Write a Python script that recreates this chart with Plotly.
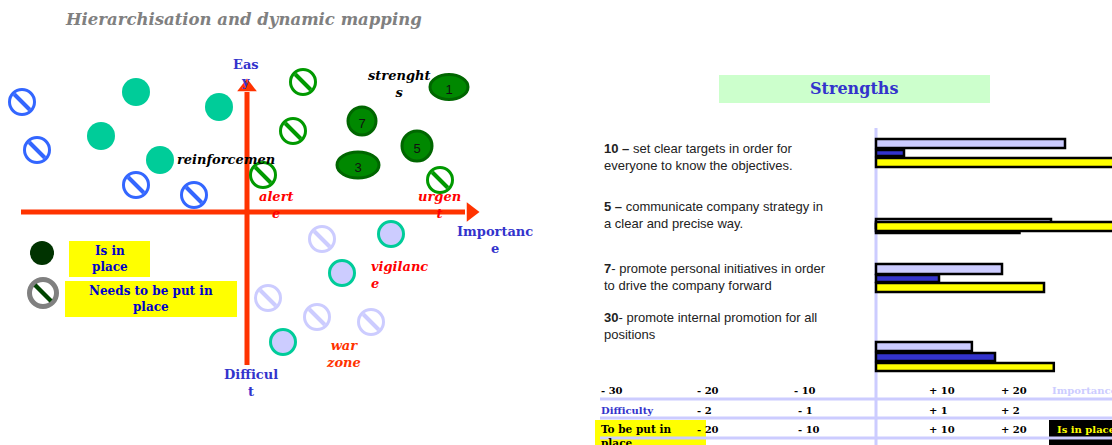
import plotly.graph_objects as go

W, H = 1112, 445

# ---- left map: importance (x) against ease (y), origin where the red axes cross
blue_x = [-22.5, -21.0, -11.1, -5.3]
blue_y = [11.0, 6.2, 2.7, 1.7]
teal_x = [-11.1, -2.8, -14.6, -8.7]
teal_y = [12.0, 10.5, 7.6, 5.2]
green_x = [5.6, 4.6, 1.6, 19.3]
green_y = [13.0, 8.1, 3.7, 3.2]
strength_labels = ["1", "7", "5", "3"]
strength_x = [20.2, 11.5, 17.0, 11.1]
strength_y = [12.5, 9.1, 6.6, 4.7]
lav_x = [7.5, 2.1, 7.0, 12.4]
lav_y = [-2.7, -8.6, -10.5, -11.0]
lavring_x = [14.4, 9.5, 3.6]
lavring_y = [-2.2, -6.1, -13.0]
legend_x = [-20.5, -20.4]
legend_y = [-4.1, -8.1]
axis_x = [-22.6, 21.8]
axis_y = [-15.3, 12.0]

# ellipse sizes for the strengths (data units)
strength_w = [3.8, 2.8, 3.0, 4.2]
strength_h = [2.5, 2.8, 3.0, 2.6]

# ---- right chart: strengths
items = ["10", "5", "7", "30"]
item_text = [
    "<b>10 –</b> set clear targets in order for<br>everyone to know the objectives.",
    "<b>5 –</b> communicate company strategy in<br>a clear and precise way.",
    "<b>7</b>- promote personal initiatives in order<br>to drive the company forward",
    "<b>30</b>- promote internal promotion for all<br>positions",
]
importance = [27, 25, 18, 13.7]
difficulty = [0.4, 2.05, 0.9, 1.7]
in_place = [36, 36, 24, 25.4]

imp_ticks = ["- 30", "- 20", "- 10", "+ 10", "+ 20"]
diff_ticks = ["- 2", "- 1", "+ 1", "+ 2"]
place_ticks = ["- 20", "- 10", "+ 10", "+ 20"]


# layout helpers (slide pixel -> paper)
def px(x):
    return x / W


def py(y):
    return 1 - y / H


row_pos = [153, 226, 278, 357]
text_y = [156.5, 215, 277, 325.5]
lav_off, lav_w = [-14, -7, -14, -15], [9, 9, 10, 9]
blue_off, blue_w = [-3, -2, -3, -4], [6, 9, 7, 8]
yel_off, yel_w = [5, -4, 5, 6], [9, 9, 9, 8]

SERIF = "DejaVu Serif"
SANS = "Liberation Sans"
RED_AXIS = "#FF3300"
BLUE_TXT = "#3333CC"

fig = go.Figure()


def hatched(xs, ys, color, ring=3, size=25, stripe=4, fill="white"):
    fig.add_trace(go.Scatter(
        x=xs, y=ys, mode="markers", hoverinfo="skip", showlegend=False,
        marker=dict(symbol="circle", size=size, color=fill,
                    line=dict(color=color, width=ring)),
    ))
    fig.add_trace(go.Scatter(
        x=xs, y=ys, mode="markers", hoverinfo="skip", showlegend=False,
        marker=dict(symbol="line-nw", size=size * 0.62,
                    line=dict(color=color, width=stripe)),
    ))


# red axes with arrow heads
fig.add_trace(go.Scatter(
    x=axis_x, y=[0, 0], mode="lines", hoverinfo="skip", showlegend=False,
    line=dict(color=RED_AXIS, width=5),
))
fig.add_trace(go.Scatter(
    x=[0, 0], y=axis_y, mode="lines", hoverinfo="skip", showlegend=False,
    line=dict(color=RED_AXIS, width=5),
))
fig.add_trace(go.Scatter(
    x=[axis_x[1] + 0.6], y=[0], mode="markers", hoverinfo="skip", showlegend=False,
    marker=dict(symbol="triangle-right", size=17, color=RED_AXIS),
))
fig.add_trace(go.Scatter(
    x=[0], y=[axis_y[1] + 0.5], mode="markers", hoverinfo="skip", showlegend=False,
    marker=dict(symbol="triangle-up", size=17, color=RED_AXIS),
))

# circles
fig.add_trace(go.Scatter(
    x=teal_x, y=teal_y, mode="markers", hoverinfo="skip", showlegend=False,
    marker=dict(size=28, color="#00CC99"),
))
hatched(blue_x, blue_y, "#3366FF")
hatched(green_x, green_y, "#009900")
hatched(lav_x, lav_y, "#CCCCFF")
fig.add_trace(go.Scatter(
    x=lavring_x, y=lavring_y, mode="markers", hoverinfo="skip", showlegend=False,
    marker=dict(size=25, color="#CCCCFF", line=dict(color="#00CC99", width=3)),
))

# strengths (ellipses) + their numbers
shapes = []
for sx, sy, sw, sh in zip(strength_x, strength_y, strength_w, strength_h):
    shapes.append(dict(
        type="circle", xref="x", yref="y", layer="below",
        x0=sx - sw / 2, x1=sx + sw / 2, y0=sy - sh / 2, y1=sy + sh / 2,
        fillcolor="#008800", line=dict(color="#006600", width=3),
    ))
fig.add_trace(go.Scatter(
    x=strength_x, y=[v - 0.35 for v in strength_y], mode="text",
    text=strength_labels, hoverinfo="skip", showlegend=False,
    textfont=dict(family=SANS, size=13, color="#111111"),
))

# legend symbols
fig.add_trace(go.Scatter(
    x=legend_x[:1], y=legend_y[:1], mode="markers", hoverinfo="skip", showlegend=False,
    marker=dict(size=24, color="#003300"),
))
hatched(legend_x[1:], legend_y[1:], "#808080", ring=5, size=27)
fig.add_trace(go.Scatter(
    x=legend_x[1:], y=legend_y[1:], mode="markers", hoverinfo="skip", showlegend=False,
    marker=dict(symbol="line-nw", size=16, line=dict(color="#004400", width=4)),
))

# bars
bar_line = dict(color="black", width=2.5)
fig.add_trace(go.Bar(
    x=importance, y=row_pos, orientation="h", offset=lav_off, width=lav_w,
    marker=dict(color="#CCCCFF", line=bar_line), xaxis="x2", yaxis="y2",
    name="Importance", showlegend=False, hoverinfo="x",
))
fig.add_trace(go.Bar(
    x=[d * 10 for d in difficulty], y=row_pos, orientation="h", offset=blue_off,
    width=blue_w, marker=dict(color="#3333CC", line=bar_line), xaxis="x2",
    yaxis="y2", name="Difficulty", showlegend=False, hoverinfo="x",
))
fig.add_trace(go.Bar(
    x=in_place, y=row_pos, orientation="h", offset=yel_off, width=yel_w,
    marker=dict(color="#FFFF00", line=bar_line), xaxis="x2", yaxis="y2",
    name="Is in place", showlegend=False, hoverinfo="x",
))


# boxes and rules
def rect(x0, x1, y0, y1, color):
    return dict(type="rect", xref="paper", yref="paper", layer="below",
                x0=px(x0), x1=px(x1), y0=py(y1), y1=py(y0),
                fillcolor=color, line=dict(width=0))


shapes += [
    rect(719, 990, 75, 103, "#CCFFCC"),
    rect(69, 150, 241, 277, "#FFFF00"),
    rect(65, 237, 281, 317, "#FFFF00"),
    rect(595, 706, 420, 450, "#FFFF00"),
    rect(1049, 1115, 420, 450, "black"),
]
for ry in [399, 418, 438]:
    shapes.append(dict(type="line", xref="paper", yref="paper", layer="below",
                       x0=px(600), x1=1, y0=py(ry), y1=py(ry),
                       line=dict(color="#CCCCFF", width=3)))
shapes.append(dict(type="line", xref="x2", yref="y2", layer="below",
                   x0=0, x1=0, y0=128, y1=450,
                   line=dict(color="#CCCCFF", width=3)))

ann = []


def label(text, x, y, size=13, color="black", family=SERIF, anchor="center",
          align="center"):
    if anchor == "left":
        x -= 2
    ann.append(dict(text=text, x=px(x), y=py(y), xref="paper", yref="paper",
                    xanchor=anchor, yanchor="middle", align=align, showarrow=False,
                    font=dict(family=family, size=size, color=color)))


label("<b><i>Hierarchisation and dynamic mapping</i></b>", 65, 19, size=16.5,
      color="#808080", anchor="left")
label("<b>Eas<br>y</b>", 246, 73.5, color=BLUE_TXT)
label("<b>Importanc<br>e</b>", 495, 240, color=BLUE_TXT)
label("<b>Difficul<br>t</b>", 251, 382.5, color=BLUE_TXT)
label("<b><i>strenght<br>s</i></b>", 399, 83.5)
label("<b><i>reinforcemen</i></b>", 177, 159, anchor="left")
label("<b><i>alert<br>e</i></b>", 276, 205.5, color="#FF0000")
label("<b><i>urgen<br>t</i></b>", 439, 205.5, color="#FF0000")
label("<b><i>vigilanc<br>e</i></b>", 371, 275, color="#FF0000", anchor="left",
      align="left")
label("<b><i>war<br>zone</i></b>", 343, 354, color=RED_AXIS)
label("<b>Is in<br>place</b>", 110, 259, size=12, color="#0000CC")
label("<b>Needs to be put in<br>place</b>", 151, 299, size=12, color="#0000CC")
label("<b>Strengths</b>", 854, 89, size=16, color=BLUE_TXT)

for t, ty in zip(item_text, text_y):
    label(t, 604, ty, size=13, color="#222222", family=SANS, anchor="left",
          align="left")

imp_x = [601, 697, 794, 929, 1001]
rest_x = [697, 798, 929, 1001]
for t, tx in zip(imp_ticks, imp_x):
    label("<b>" + t + "</b>", tx, 390, size=10, anchor="left")
for t, tx in zip(diff_ticks, rest_x):
    label("<b>" + t + "</b>", tx, 410, size=10, anchor="left")
for t, tx in zip(place_ticks, rest_x):
    label("<b>" + t + "</b>", tx, 429, size=10, anchor="left")
label("<b>Importance</b>", 1052, 390, size=10, color="#CCCCFF", anchor="left")
label("<b>Difficulty</b>", 601, 410, size=10, color=BLUE_TXT, anchor="left")
label("<b>To be put in<br>place</b>", 601, 436, size=10.5, anchor="left",
      align="left")
label("<b>Is in place</b>", 1057, 429, size=10, color="#FFFF00", anchor="left")

hidden = dict(visible=False, showgrid=False, zeroline=False, fixedrange=True)
fig.update_layout(
    width=W, height=H,
    margin=dict(l=0, r=0, t=0, b=0),
    paper_bgcolor="white", plot_bgcolor="rgba(0,0,0,0)",
    barmode="overlay",
    xaxis=dict(domain=[0, px(560)], range=[-24.7, 31.3], **hidden),
    yaxis=dict(domain=[0, 1], range=[-23.3, 21.2], **hidden),
    xaxis2=dict(domain=[px(580), 1], range=[(580 - 876) / 7, (1112 - 876) / 7],
                anchor="y2", **hidden),
    yaxis2=dict(domain=[0, 1], range=[445, 0], anchor="x2", **hidden),
    shapes=shapes,
    annotations=ann,
)

# drop the page's default body margin so the slide fills the window
fig.write_html("out.html", config={"displayModeBar": False},
               post_script="document.body.style.margin = '0';")
